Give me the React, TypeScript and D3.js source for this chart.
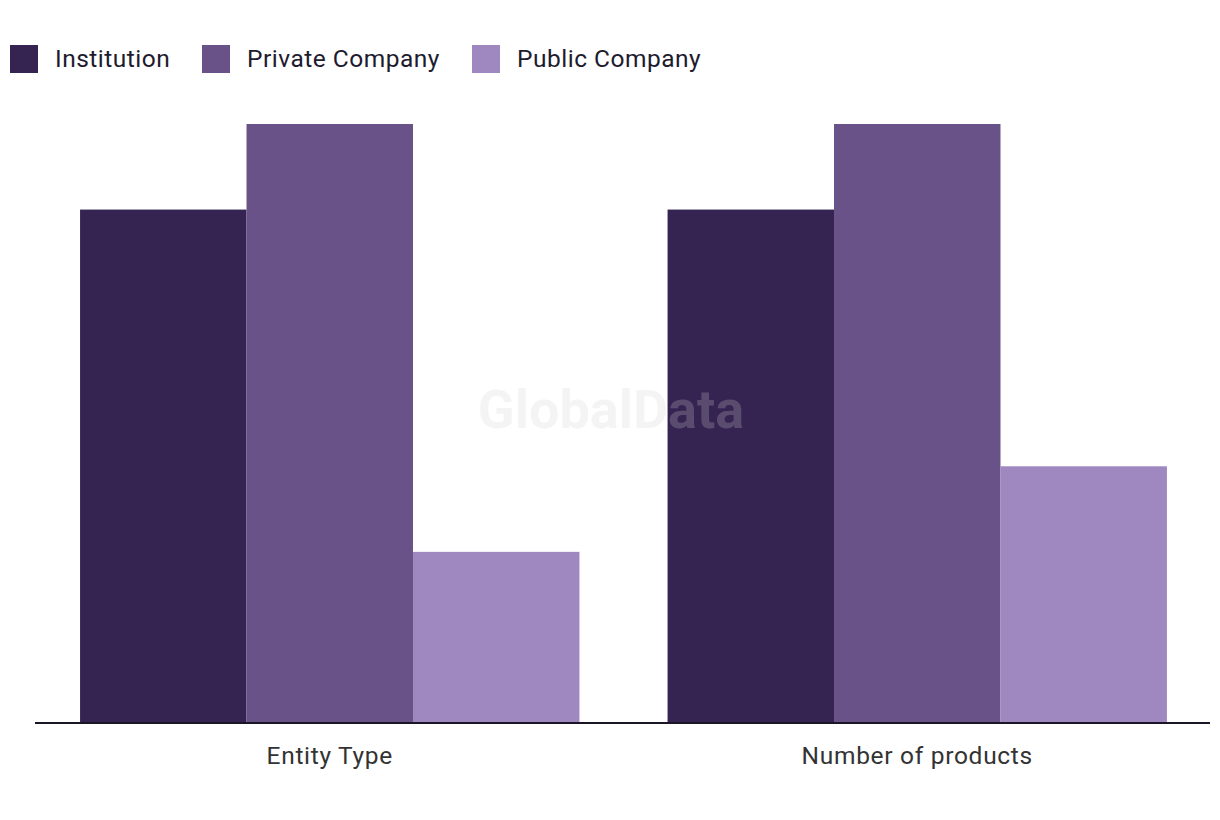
import React from "react";
import * as d3 from "d3";

const categories = ["Entity Type", "Number of products"];
const seriesNames = ["Institution", "Private Company", "Public Company"];
const institution = [6, 6];
const privateCompany = [7, 7];
const publicCompany = [2, 3];
const colors = ["#352351", "#685288", "#9f87c0"];

const W = 1220;
const H = 820;
const FONT = "Roboto, 'Liberation Sans', sans-serif";

export default function App() {
  const seriesValues = [institution, privateCompany, publicCompany];
  const x0 = d3.scaleBand<string>().domain(categories).range([36, 1211]).paddingInner(0.15).paddingOuter(0.075);
  const x1 = d3.scaleBand<string>().domain(seriesNames).range([0, x0.bandwidth()]).padding(0);
  const y = d3.scaleLinear().domain([0, 7]).range([723, 124]);
  const legendX = [10, 202, 472];

  return (
    <svg width={W} height={H} style={{ position: "absolute", left: 0, top: 0, background: "#fff" }}>
      <g>
        {seriesNames.map((s, i) => (
          <g key={s} transform={`translate(${legendX[i]},0)`}>
            <rect x={0} y={45} width={28} height={28} fill={colors[i]} />
            <text x={45} y={67} fontFamily={FONT} fontSize={24.5} letterSpacing={0.5} fill="#1e1b2e">{s}</text>
          </g>
        ))}
      </g>
      <g>
        {categories.map((c, ci) => (
          <g key={c} transform={`translate(${x0(c)},0)`}>
            {seriesNames.map((s, si) => (
              <rect
                key={s}
                x={x1(s)}
                y={y(seriesValues[si][ci])}
                width={x1.bandwidth()}
                height={y(0) - y(seriesValues[si][ci])}
                fill={colors[si]}
              />
            ))}
          </g>
        ))}
      </g>
      <text x={611} y={428} textAnchor="middle" fontFamily={FONT} fontWeight={700} fontSize={54} fill="#d0d0d0" fillOpacity={0.24}>GlobalData</text>
      <line x1={35} x2={1210} y1={y(0)} y2={y(0)} stroke="#1a1626" strokeWidth={2} />
      {categories.map((c) => (
        <text key={c} x={(x0(c) ?? 0) + x0.bandwidth() / 2} y={764} textAnchor="middle" fontFamily={FONT} fontSize={24.5} letterSpacing={0.7} fill="#333333">{c}</text>
      ))}
    </svg>
  );
}
